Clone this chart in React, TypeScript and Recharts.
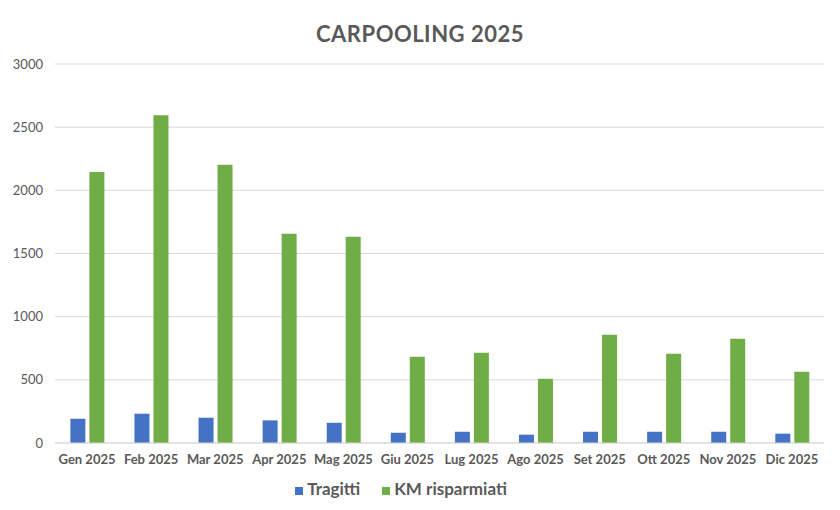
import { Bar, BarChart, CartesianGrid, Legend, XAxis, YAxis } from 'recharts'

const months = [
  'Gen 2025', 'Feb 2025', 'Mar 2025', 'Apr 2025', 'Mag 2025', 'Giu 2025',
  'Lug 2025', 'Ago 2025', 'Set 2025', 'Ott 2025', 'Nov 2025', 'Dic 2025',
]
const tragitti = [192, 232, 200, 179, 160, 81, 89, 66, 89, 89, 89, 74]
const kmRisparmiati = [2145, 2595, 2202, 1656, 1632, 683, 715, 509, 857, 707, 825, 564]
const yTicks = [0, 500, 1000, 1500, 2000, 2500, 3000]
const seriesOrder = ['tragitti', 'km']

const data = months.map((name, i) => ({
  name,
  tragitti: tragitti[i],
  km: kmRisparmiati[i],
}))

const font = 'Lato, "Open Sans", sans-serif'

export default function App() {
  return (
    <div style={{ position: 'fixed', top: 0, left: 0, width: 840, height: 510, background: '#fff', fontFamily: font }}>
      <div
        style={{
          position: 'absolute', top: 20, left: 0, width: 840, textAlign: 'center',
          fontSize: 22, fontWeight: 700, color: '#595959', letterSpacing: 0.5,
        }}
      >
        CARPOOLING 2025
      </div>
      <BarChart
        width={840}
        height={510}
        data={data}
        margin={{ top: 64, right: 16, left: 0, bottom: 4 }}
        barGap={4}
        barCategoryGap="24%"
      >
        <CartesianGrid vertical={false} stroke="#d9d9d9" />
        <XAxis
          dataKey="name"
          height={30}
          axisLine={{ stroke: '#d9d9d9' }}
          tickLine={false}
          tickSize={0}
          tickMargin={12}
          interval={0}
          tick={{ fill: '#595959', fontSize: 13, fontWeight: 700, fontFamily: font }}
        />
        <YAxis
          width={55}
          domain={[0, 3000]}
          ticks={yTicks}
          axisLine={false}
          tickLine={false}
          tickSize={0}
          tickMargin={12}
          tick={{ fill: '#595959', fontSize: 13, fontFamily: font }}
        />
        <Legend
          verticalAlign="bottom"
          height={33}
          iconType="square"
          iconSize={8}
          itemSorter={(item: any) => seriesOrder.indexOf(item.dataKey)}
          wrapperStyle={{ bottom: -1, fontSize: 17, fontWeight: 700, fontFamily: font }}
          formatter={(v: string) => (
            <span style={{ color: '#595959', fontWeight: 700, marginRight: 12 }}>{v}</span>
          )}
        />
        <Bar dataKey="tragitti" name="Tragitti" fill="#4472C4" isAnimationActive={false} />
        <Bar dataKey="km" name="KM risparmiati" fill="#70AD47" isAnimationActive={false} />
      </BarChart>
    </div>
  )
}
